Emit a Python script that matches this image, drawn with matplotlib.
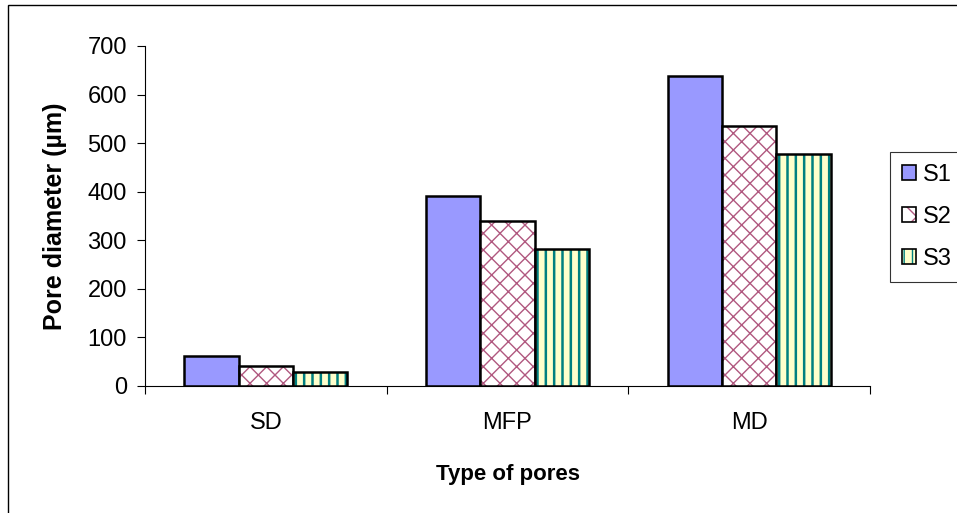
import matplotlib.pyplot as plt
import numpy as np

plt.rcParams['font.family'] = ['Liberation Sans', 'DejaVu Sans']

categories = ['SD', 'MFP', 'MD']
series = ['S1', 'S2', 'S3']
s1 = [62, 391, 638]
s2 = [41, 340, 535]
s3 = [29, 282, 478]
values = [s1, s2, s3]

fills = ['#9999FF', 'white', '#FFFFCC']
hatches = [None, 'xx', '||']
legend_hatches = [None, 'x', '||']
hatch_colors = ['#9999FF', '#B0587F', '#008080']
hatch_widths = [1.0, 1.0, 1.8]

W, H = 957, 513
fig = plt.figure(figsize=(W / 100, H / 100), dpi=100)
ax = fig.add_axes([145 / W, 1 - 386 / H, 725 / W, 340 / H])

x = np.arange(len(categories))
w = 0.225
handles = []
for i, vals in enumerate(values):
    pos = x + (i - 1) * w
    with plt.rc_context({'hatch.linewidth': hatch_widths[i]}):
        if hatches[i]:
            ax.bar(pos, vals, w, color=fills[i], edgecolor=hatch_colors[i],
                   hatch=hatches[i], linewidth=0)
        else:
            ax.bar(pos, vals, w, color=fills[i], linewidth=0)
        inner = plt.Rectangle((0, 0), 1, 1, facecolor=fills[i], edgecolor=hatch_colors[i],
                              hatch=legend_hatches[i], linewidth=0)
    border = plt.Rectangle((0, 0), 1, 1, fill=False, edgecolor='black', linewidth=1.2)
    handles.append((inner, border))
    ax.bar(pos, vals, w, fill=False, edgecolor='black', linewidth=1.8)

ax.set_xlim(-0.5, 2.5)
ax.set_ylim(0, 700)
ax.set_yticks(range(0, 701, 100))
ax.set_xticks([-0.5, 0.5, 1.5, 2.5])
ax.set_xticklabels([])
ax.set_xticks(x, minor=True)
ax.set_xticklabels(categories, minor=True)
ax.tick_params(axis='x', which='minor', length=0, pad=19, labelsize=17)
ax.tick_params(axis='x', which='major', length=6, direction='out')
ax.tick_params(axis='y', length=6, direction='out', labelsize=17, pad=7)
for s in ['top', 'right']:
    ax.spines[s].set_visible(False)
ax.set_ylabel('Pore diameter (\u00b5m)', fontsize=18, fontweight='bold', labelpad=15)
ax.set_xlabel('Type of pores', fontsize=16, fontweight='bold', labelpad=21)

leg = fig.legend(handles, series, loc='upper left',
                 bbox_to_anchor=(890 / W, 1 - 152 / H), fontsize=17,
                 frameon=True, fancybox=False, edgecolor='black',
                 handlelength=0.6, handleheight=0.6, handletextpad=0.3,
                 labelspacing=0.85, borderpad=0.5, borderaxespad=0)
leg.get_frame().set_linewidth(0.8)

fig.patches.append(plt.Rectangle((8 / W, -0.1), 1.2, 1.1 - 5 / H,
                                 transform=fig.transFigure, fill=False,
                                 edgecolor='black', linewidth=1))

fig.savefig('out.png', dpi=100)
